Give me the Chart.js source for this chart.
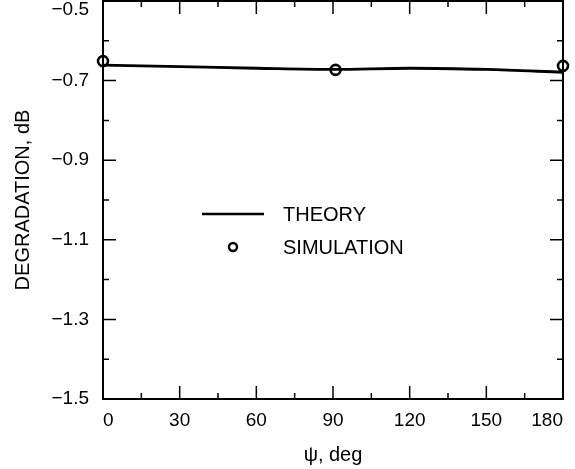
<!DOCTYPE html>
<html>
<head>
<meta charset="utf-8">
<script src="https://cdn.jsdelivr.net/npm/chart.js@4.4.1/dist/chart.umd.min.js"></script>
<style>
  html, body { margin: 0; padding: 0; background: #fff; }
  #wrap { width: 575px; height: 469px; }
</style>
</head>
<body>
<div id="wrap"><canvas id="degChart" width="575" height="469"></canvas></div>
<script>
// psi, deg -> degradation, dB
const theoryPsi = [0, 30, 60, 90, 120, 150, 180];
const theoryDeg = [-0.661, -0.665, -0.669, -0.672, -0.669, -0.672, -0.679];

const simPsi = [0, 91, 180];
const simDeg = [-0.651, -0.673, -0.663];

const xTicks = [0, 30, 60, 90, 120, 150, 180];
const yTicks = [-1.5, -1.3, -1.1, -0.9, -0.7, -0.5];

const FONT = 'Liberation Sans, Arial, sans-serif';

const fmtY = v => {
  const s = Math.abs(v).toFixed(1);
  return v < 0 ? '\u2212' + s : s;
};

// ticks pointing inward on all four sides, major + minor (midpoints)
const boxTicks = {
  id: 'boxTicks',
  afterDraw(chart) {
    const { ctx, chartArea: a, scales } = chart;
    const xs = scales.x, ys = scales.y;
    const major = 13, minor = 6;
    ctx.save();
    ctx.strokeStyle = '#000';
    ctx.lineWidth = 1.5;
    const vTick = (v, len) => {
      const px = xs.getPixelForValue(v);
      ctx.beginPath();
      ctx.moveTo(px, a.bottom); ctx.lineTo(px, a.bottom - len);
      ctx.moveTo(px, a.top); ctx.lineTo(px, a.top + len);
      ctx.stroke();
    };
    const hTick = (v, len) => {
      const py = ys.getPixelForValue(v);
      ctx.beginPath();
      ctx.moveTo(a.left, py); ctx.lineTo(a.left + len, py);
      ctx.moveTo(a.right, py); ctx.lineTo(a.right - len, py);
      ctx.stroke();
    };
    xTicks.forEach((v, i) => {
      vTick(v, major);
      if (i < xTicks.length - 1) vTick((v + xTicks[i + 1]) / 2, minor);
    });
    yTicks.forEach((v, i) => {
      hTick(v, major);
      if (i < yTicks.length - 1) hTick((v + yTicks[i + 1]) / 2, minor);
    });
    // frame
    ctx.lineWidth = 2;
    ctx.strokeRect(a.left, a.top, a.right - a.left, a.bottom - a.top);

    // y tick labels, kept inside the canvas at the top
    ctx.fillStyle = '#000';
    ctx.font = '19px ' + FONT;
    ctx.textAlign = 'right';
    ctx.textBaseline = 'middle';
    yTicks.forEach(v => {
      const py = Math.max(ys.getPixelForValue(v), 10);
      ctx.fillText(fmtY(v), a.left - 14, py);
    });
    ctx.restore();
  }
};

// legend inside the plot
const innerLegend = {
  id: 'innerLegend',
  afterDraw(chart) {
    const ctx = chart.ctx;
    ctx.save();
    ctx.strokeStyle = '#000';
    ctx.lineWidth = 2.5;
    ctx.beginPath();
    ctx.moveTo(202, 214); ctx.lineTo(264, 214);
    ctx.stroke();
    ctx.beginPath();
    ctx.arc(233, 247, 4, 0, Math.PI * 2);
    ctx.fillStyle = '#fff';
    ctx.fill();
    ctx.lineWidth = 2.4;
    ctx.stroke();
    ctx.fillStyle = '#000';
    ctx.font = '20px ' + FONT;
    ctx.textBaseline = 'middle';
    ctx.fillText('THEORY', 283, 215);
    ctx.fillText('SIMULATION', 283, 248);
    ctx.restore();
  }
};

new Chart(document.getElementById('degChart'), {
  type: 'scatter',
  data: {
    datasets: [
      {
        label: 'THEORY',
        data: theoryPsi.map((x, i) => ({ x, y: theoryDeg[i] })),
        showLine: true,
        borderColor: '#000',
        borderWidth: 2.8,
        pointRadius: 0,
        tension: 0.4,
        cubicInterpolationMode: 'monotone'
      },
      {
        label: 'SIMULATION',
        data: simPsi.map((x, i) => ({ x, y: simDeg[i] })),
        showLine: false,
        pointRadius: 5,
        pointBorderWidth: 2.6,
        pointBorderColor: '#000',
        pointBackgroundColor: '#fff'
      }
    ]
  },
  options: {
    responsive: false,
    animation: false,
    clip: false,
    layout: { autoPadding: false, padding: { left: 0, right: 12, top: 1, bottom: 0 } },
    plugins: {
      legend: { display: false },
      tooltip: { enabled: false }
    },
    scales: {
      x: {
        type: 'linear',
        min: 0,
        max: 180,
        afterBuildTicks: s => { s.ticks = xTicks.map(v => ({ value: v })); },
        afterFit: s => { s.height = 70; s.paddingLeft = 0; s.paddingRight = 0; },
        grid: { display: false, drawTicks: false },
        border: { display: false },
        ticks: {
          align: 'inner',
          padding: 10,
          color: '#000',
          font: { family: FONT, size: 19 },
          callback: v => String(v)
        },
        title: {
          display: true,
          text: '\u03c8, deg',
          color: '#000',
          font: { family: FONT, size: 20 },
          padding: { top: 0, bottom: 2 }
        }
      },
      y: {
        type: 'linear',
        min: -1.5,
        max: -0.5,
        afterBuildTicks: s => { s.ticks = yTicks.map(v => ({ value: v })); },
        afterFit: s => { s.width = 103; s.paddingTop = 0; s.paddingBottom = 0; },
        grid: { display: false, drawTicks: false },
        border: { display: false },
        ticks: { display: false },
        title: {
          display: true,
          text: 'DEGRADATION, dB',
          color: '#000',
          font: { family: FONT, size: 20 },
          padding: { top: 11, bottom: 0 }
        }
      }
    }
  },
  plugins: [boxTicks, innerLegend]
});
</script>
</body>
</html>
